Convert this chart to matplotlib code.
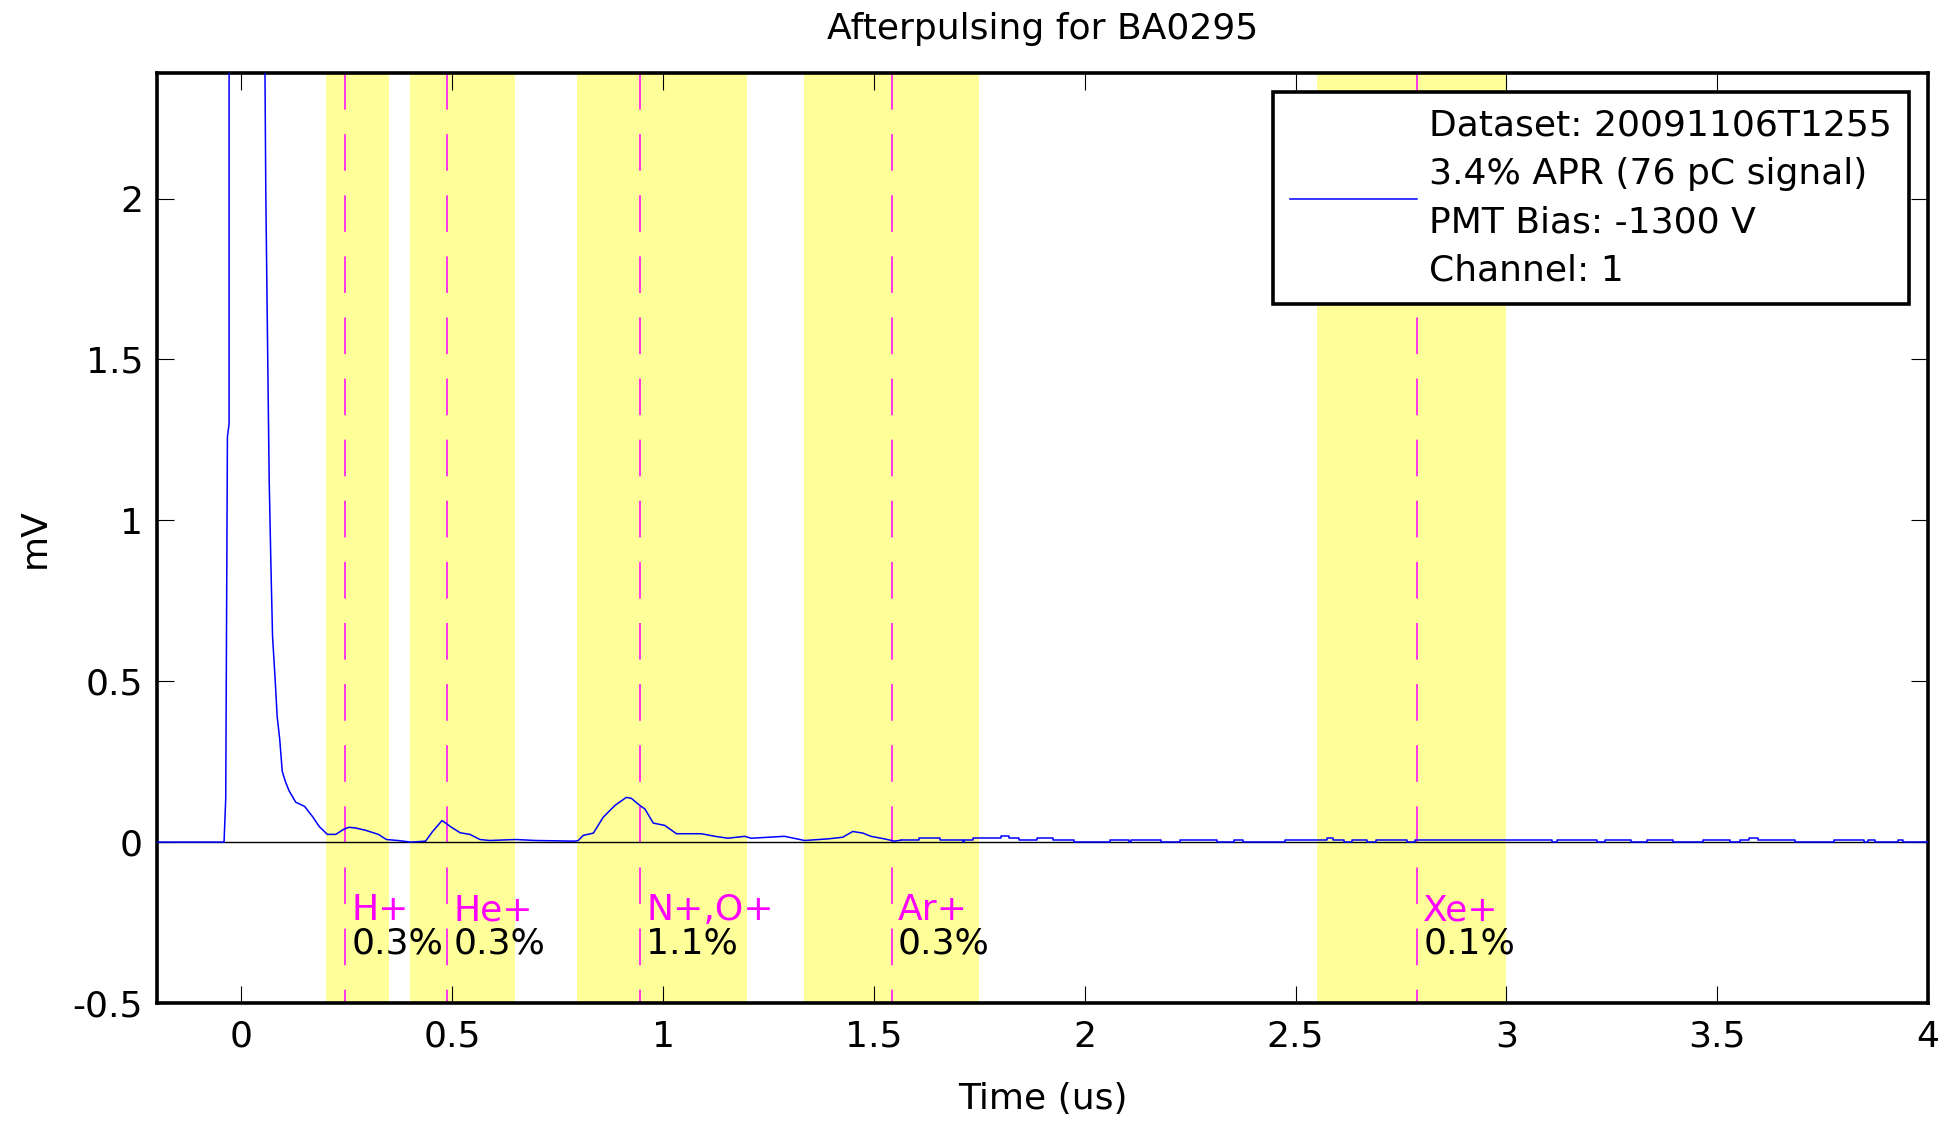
import matplotlib
matplotlib.use("Agg")
import matplotlib.pyplot as plt

# Averaged PMT trace: main pulse and the afterpulse region (time in us, amplitude in mV)
trace_t = [-0.2, -0.041, -0.037, -0.033, -0.029, -0.029, 0.012, 0.055, 0.058, 0.062,
           0.066, 0.070, 0.074, 0.080, 0.085, 0.091, 0.097, 0.104, 0.113, 0.129,
           0.150, 0.169, 0.185, 0.204, 0.224, 0.243, 0.255, 0.270, 0.294, 0.325,
           0.344, 0.371, 0.402, 0.437, 0.453, 0.476, 0.488, 0.496, 0.519, 0.542,
           0.566, 0.589, 0.651, 0.698, 0.791, 0.799, 0.811, 0.835, 0.858, 0.886,
           0.913, 0.925, 0.945, 0.957, 0.977, 1.004, 1.032, 1.091, 1.123, 1.154,
           1.194, 1.209, 1.249, 1.288, 1.336, 1.391, 1.426, 1.450, 1.474, 1.493,
           1.525, 1.549, 1.564]
trace_mv = [0.0, 0.0, 0.135, 1.26, 1.30, 3.4, 4.6, 2.6, 2.02, 1.57,
            1.13, 0.87, 0.64, 0.51, 0.39, 0.32, 0.22, 0.19, 0.16, 0.124,
            0.111, 0.079, 0.048, 0.024, 0.024, 0.040, 0.046, 0.044, 0.037, 0.024,
            0.008, 0.005, 0.0, 0.003, 0.032, 0.067, 0.056, 0.048, 0.029, 0.024,
            0.008, 0.005, 0.008, 0.005, 0.003, 0.005, 0.021, 0.028, 0.077, 0.114,
            0.139, 0.136, 0.114, 0.103, 0.059, 0.052, 0.026, 0.026, 0.018, 0.012,
            0.018, 0.012, 0.015, 0.018, 0.005, 0.010, 0.015, 0.033, 0.028, 0.018,
            0.010, 0.003, 0.006]

# Digitised tail of the trace (step start times and levels)
tail_t = [1.564, 1.608, 1.658, 1.711, 1.715, 1.734, 1.801, 1.821, 1.845, 1.888,
          1.924, 1.975, 2.060, 2.105, 2.110, 2.180, 2.227, 2.313, 2.354, 2.376,
          2.476, 2.575, 2.589, 2.614, 2.634, 2.670, 2.690, 2.764, 2.784, 3.108,
          3.120, 3.216, 3.233, 3.296, 3.334, 3.395, 3.467, 3.531, 3.554, 3.576,
          3.596, 3.684, 3.776, 3.848, 3.858, 3.874, 3.929, 3.941, 4.0]
tail_mv = [0.006, 0.012, 0.006, 0.0, 0.006, 0.012, 0.018, 0.012, 0.006, 0.012,
           0.006, 0.0, 0.006, 0.0, 0.006, 0.0, 0.006, 0.0, 0.006, 0.0,
           0.006, 0.012, 0.006, 0.0, 0.006, 0.0, 0.006, 0.0, 0.006, 0.0,
           0.006, 0.0, 0.006, 0.0, 0.006, 0.0, 0.006, 0.0, 0.006, 0.012,
           0.006, 0.0, 0.006, 0.0, 0.006, 0.0, 0.006, 0.0, 0.0]

# Ion species: integration windows, expected arrival times and afterpulse ratios
ion_names = ["H+", "He+", "N+,O+", "Ar+", "Xe+"]
window_start = [0.20, 0.40, 0.795, 1.335, 2.55]
window_end = [0.35, 0.65, 1.20, 1.75, 3.00]
arrival_us = [0.246, 0.488, 0.945, 1.542, 2.788]
ratio_pct = [0.3, 0.3, 1.1, 0.3, 0.1]

legend_lines = ["Dataset: 20091106T1255", "3.4% APR (76 pC signal)",
                "PMT Bias: -1300 V", "Channel: 1"]

x_ticks = [0, 0.5, 1, 1.5, 2, 2.5, 3, 3.5, 4]
x_tick_labels = ["0", "0.5", "1", "1.5", "2", "2.5", "3", "3.5", "4"]
y_ticks = [-0.5, 0, 0.5, 1, 1.5, 2]
y_tick_labels = ["-0.5", "0", "0.5", "1", "1.5", "2"]

FS = 26
W, H = 1954, 1121
fig = plt.figure(figsize=(W / 100, H / 100), dpi=100)
ax = fig.add_axes([157 / W, 1 - 1003 / H, (1928 - 157) / W, (1003 - 73) / H])

ymin, ymax = -0.5, 2.39
ax.set_xlim(-0.2, 4)
ax.set_ylim(ymin, ymax)

for a, b in zip(window_start, window_end):
    ax.axvspan(a, b, color="#FFFF99", lw=0, zorder=0)

for t in arrival_us:
    ax.plot([t, t], [ymax, ymin], color="#FF00FF", lw=1.1,
            linestyle=(0, (24, 16)), zorder=1)

ax.axhline(0, color="black", lw=1.0, zorder=2)
ax.plot(trace_t, trace_mv, color="#0000FF", lw=1.1, zorder=3,
        label="\n".join(legend_lines))
ax.plot(tail_t, tail_mv, color="#0000FF", lw=1.1, zorder=3, drawstyle="steps-post")

for name, t, pct in zip(ion_names, arrival_us, ratio_pct):
    ax.annotate(name, (t, -0.243), xytext=(4.5, 0), textcoords="offset points",
                color="#FF00FF", fontsize=FS, va="baseline", ha="left", zorder=4)
    ax.annotate(f"{pct:.1f}%", (t, -0.345), xytext=(4.5, 0), textcoords="offset points",
                color="black", fontsize=FS, va="baseline", ha="left", zorder=4)

ax.set_xticks(x_ticks)
ax.set_xticklabels(x_tick_labels)
ax.set_yticks(y_ticks)
ax.set_yticklabels(y_tick_labels)
ax.tick_params(direction="in", length=12, width=0.8, labelsize=FS,
               top=True, right=True, color="black")
ax.tick_params(axis="x", pad=12)
ax.tick_params(axis="y", pad=10)
for s in ax.spines.values():
    s.set_linewidth(2.6)

ax.set_xlabel("Time (us)", fontsize=FS, va="center")
ax.xaxis.set_label_coords(0.5, (1003 - 1099) / 930)
ax.set_ylabel("mV", fontsize=FS, ha="center", va="center")
ax.yaxis.set_label_coords((35 - 157) / 1771, 0.5)

fig.text(0.5 * (157 + 1928) / W, 1 - 29 / H, "Afterpulsing for BA0295",
         fontsize=FS, ha="center", va="center")

leg = ax.legend(loc="upper right", bbox_to_anchor=(1909 / W, 1 - 92 / H),
                bbox_transform=fig.transFigure, borderaxespad=0,
                fontsize=FS, handlelength=3.5, handletextpad=0.35,
                borderpad=0.47, fancybox=False, framealpha=1, edgecolor="black")
leg.get_frame().set_linewidth(2.6)
leg.get_lines()[0].set_linewidth(1.1)
for txt in leg.get_texts():
    txt.set_linespacing(1.52)

fig.savefig("out.png", dpi=100)
